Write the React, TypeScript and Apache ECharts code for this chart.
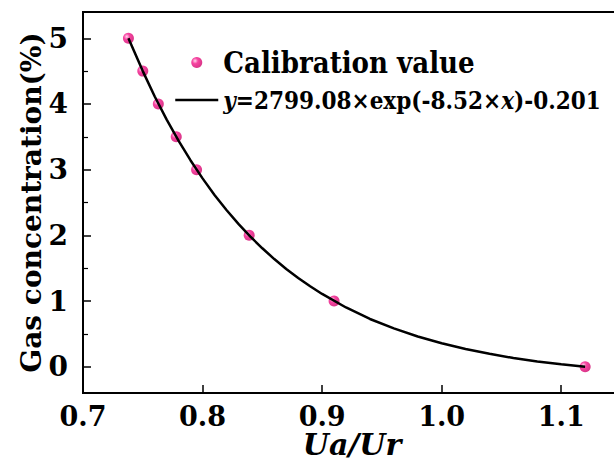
import React, { useEffect, useRef } from "react";
import * as echarts from "echarts";

// Calibration points (Ua/Ur, gas concentration %)
const calX = [0.738, 0.750, 0.763, 0.778, 0.795, 0.839, 0.910, 1.120];
const calY = [5, 4.5, 4, 3.5, 3, 2, 1, 0];

// Fitted curve
const fitX = [0.738, 0.75, 0.76, 0.77, 0.78, 0.79, 0.80, 0.81, 0.82, 0.83, 0.84, 0.85, 0.86, 0.87, 0.88, 0.89, 0.90, 0.92, 0.94, 0.96, 0.98, 1.00, 1.02, 1.04, 1.06, 1.08, 1.10, 1.12];
const fitY = [5.0, 4.50, 4.113, 3.762, 3.437, 3.140, 2.867, 2.615, 2.386, 2.174, 1.981, 1.803, 1.639, 1.489, 1.351, 1.224, 1.108, 0.902, 0.727, 0.584, 0.461, 0.357, 0.269, 0.196, 0.133, 0.081, 0.037, 0.0];

const xTicks = [0.7, 0.8, 0.9, 1.0, 1.1];
const yTicks = [0, 1, 2, 3, 4, 5];
const yMinorTicks = [0.5, 1.5, 2.5, 3.5, 4.5];

const calName = "Calibration value";
const fitName = "y=2799.08×exp(-8.52×x)-0.201";

const FONT = "DejaVu Serif";
const LEGEND_FONT = "DejaVu Serif Condensed, DejaVu Serif";

export default function App() {
  const ref = useRef<HTMLDivElement>(null);
  useEffect(() => {
    if (!ref.current) return;
    const chart = echarts.init(ref.current, undefined, { renderer: "svg" });
    const sphere = new echarts.graphic.RadialGradient(0.35, 0.35, 0.75, [
      { offset: 0, color: "#ffd0e8" },
      { offset: 0.35, color: "#f5158a" },
      { offset: 1, color: "#c80064" },
    ]);
    const legendBase = {
      fontFamily: LEGEND_FONT,
      fontWeight: "bold",
      color: "#000",
    };
    chart.setOption({
      animation: false,
      backgroundColor: "#ffffff",
      textStyle: { fontFamily: FONT },
      grid: {
        left: 83,
        top: 12,
        right: 9,
        bottom: 73,
        outerBoundsMode: "none",
        containLabel: false,
        show: true,
        borderColor: "#000",
        borderWidth: 2,
        backgroundColor: "transparent",
      },
      legend: {
        orient: "vertical",
        left: 169,
        top: 43,
        itemWidth: 43,
        itemHeight: 11,
        itemGap: 11,
        selectedMode: false,
        data: [
          { name: calName },
          { name: fitName, itemStyle: { opacity: 0 }, lineStyle: { color: "#000", width: 2.5 } },
        ],
        formatter: (name: string) =>
          name === fitName
            ? "{i|y}{e|=2799.08×exp(-8.52×}{i|x}{e|)-0.201}"
            : "{c|" + name + "}",
        textStyle: {
          ...legendBase,
          fontSize: 24,
          rich: {
            c: { ...legendBase, fontSize: 29 },
            e: { ...legendBase, fontSize: 24 },
            i: { ...legendBase, fontStyle: "italic", fontSize: 24 },
          },
        },
      },
      xAxis: [
        {
          type: "value",
          min: 0.7,
          max: 1.15,
          name: "Ua/Ur",
          nameLocation: "middle",
          nameGap: 36,
          nameMoveOverlap: false,
          nameTextStyle: {
            fontFamily: FONT,
            fontWeight: "bold",
            fontStyle: "italic",
            fontSize: 30,
            lineHeight: 30,
            color: "#000",
          },
          axisLine: { show: true, onZero: false, lineStyle: { color: "#000", width: 2 } },
          axisTick: {
            show: true,
            inside: true,
            length: 8,
            customValues: xTicks.slice(1),
            lineStyle: { color: "#000", width: 1.5 },
          },
          axisLabel: {
            customValues: xTicks,
            formatter: (v: number) => v.toFixed(1),
            fontFamily: FONT,
            fontWeight: "bold",
            fontSize: 27,
            lineHeight: 26,
            color: "#000",
            margin: 10,
          },
          splitLine: { show: false },
        },
      ],
      yAxis: [
        {
          type: "value",
          min: -0.4,
          max: 5.4,
          name: "Gas concentration(%)",
          nameLocation: "middle",
          nameGap: 38,
          nameMoveOverlap: false,
          nameTextStyle: {
            fontFamily: FONT,
            fontWeight: "bold",
            fontSize: 28,
            color: "#000",
          },
          axisLine: { show: true, onZero: false, lineStyle: { color: "#000", width: 2 } },
          axisTick: {
            show: true,
            inside: true,
            length: 8,
            customValues: yTicks,
            lineStyle: { color: "#000", width: 1.5 },
          },
          axisLabel: {
            customValues: yTicks,
            fontFamily: FONT,
            fontWeight: "bold",
            fontSize: 28,
            color: "#000",
            margin: 15,
          },
          splitLine: { show: false },
        },
        {
          type: "value",
          min: -0.4,
          max: 5.4,
          position: "left",
          axisLine: { show: false, onZero: false },
          axisTick: {
            show: true,
            inside: true,
            length: 5,
            customValues: yMinorTicks,
            lineStyle: { color: "#000", width: 1.2 },
          },
          axisLabel: { show: false },
          splitLine: { show: false },
        },
      ],
      series: [
        {
          name: calName,
          type: "scatter",
          symbol: "circle",
          symbolSize: 11,
          itemStyle: { color: sphere },
          data: calX.map((x, i) => [x, calY[i]]),
          z: 2,
        },
        {
          name: fitName,
          type: "line",
          symbol: "none",
          showSymbol: false,
          smooth: false,
          lineStyle: { color: "#000", width: 2.5 },
          itemStyle: { color: "#000" },
          data: fitX.map((x, i) => [x, fitY[i]]),
          z: 3,
        },
      ],
    });
    return () => chart.dispose();
  }, []);
  return (
    <div
      style={{
        position: "fixed",
        left: 0,
        top: 0,
        width: 614,
        height: 466,
        overflow: "hidden",
        background: "#fff",
      }}
    >
      <div ref={ref} style={{ width: 630, height: 466 }} />
    </div>
  );
}
